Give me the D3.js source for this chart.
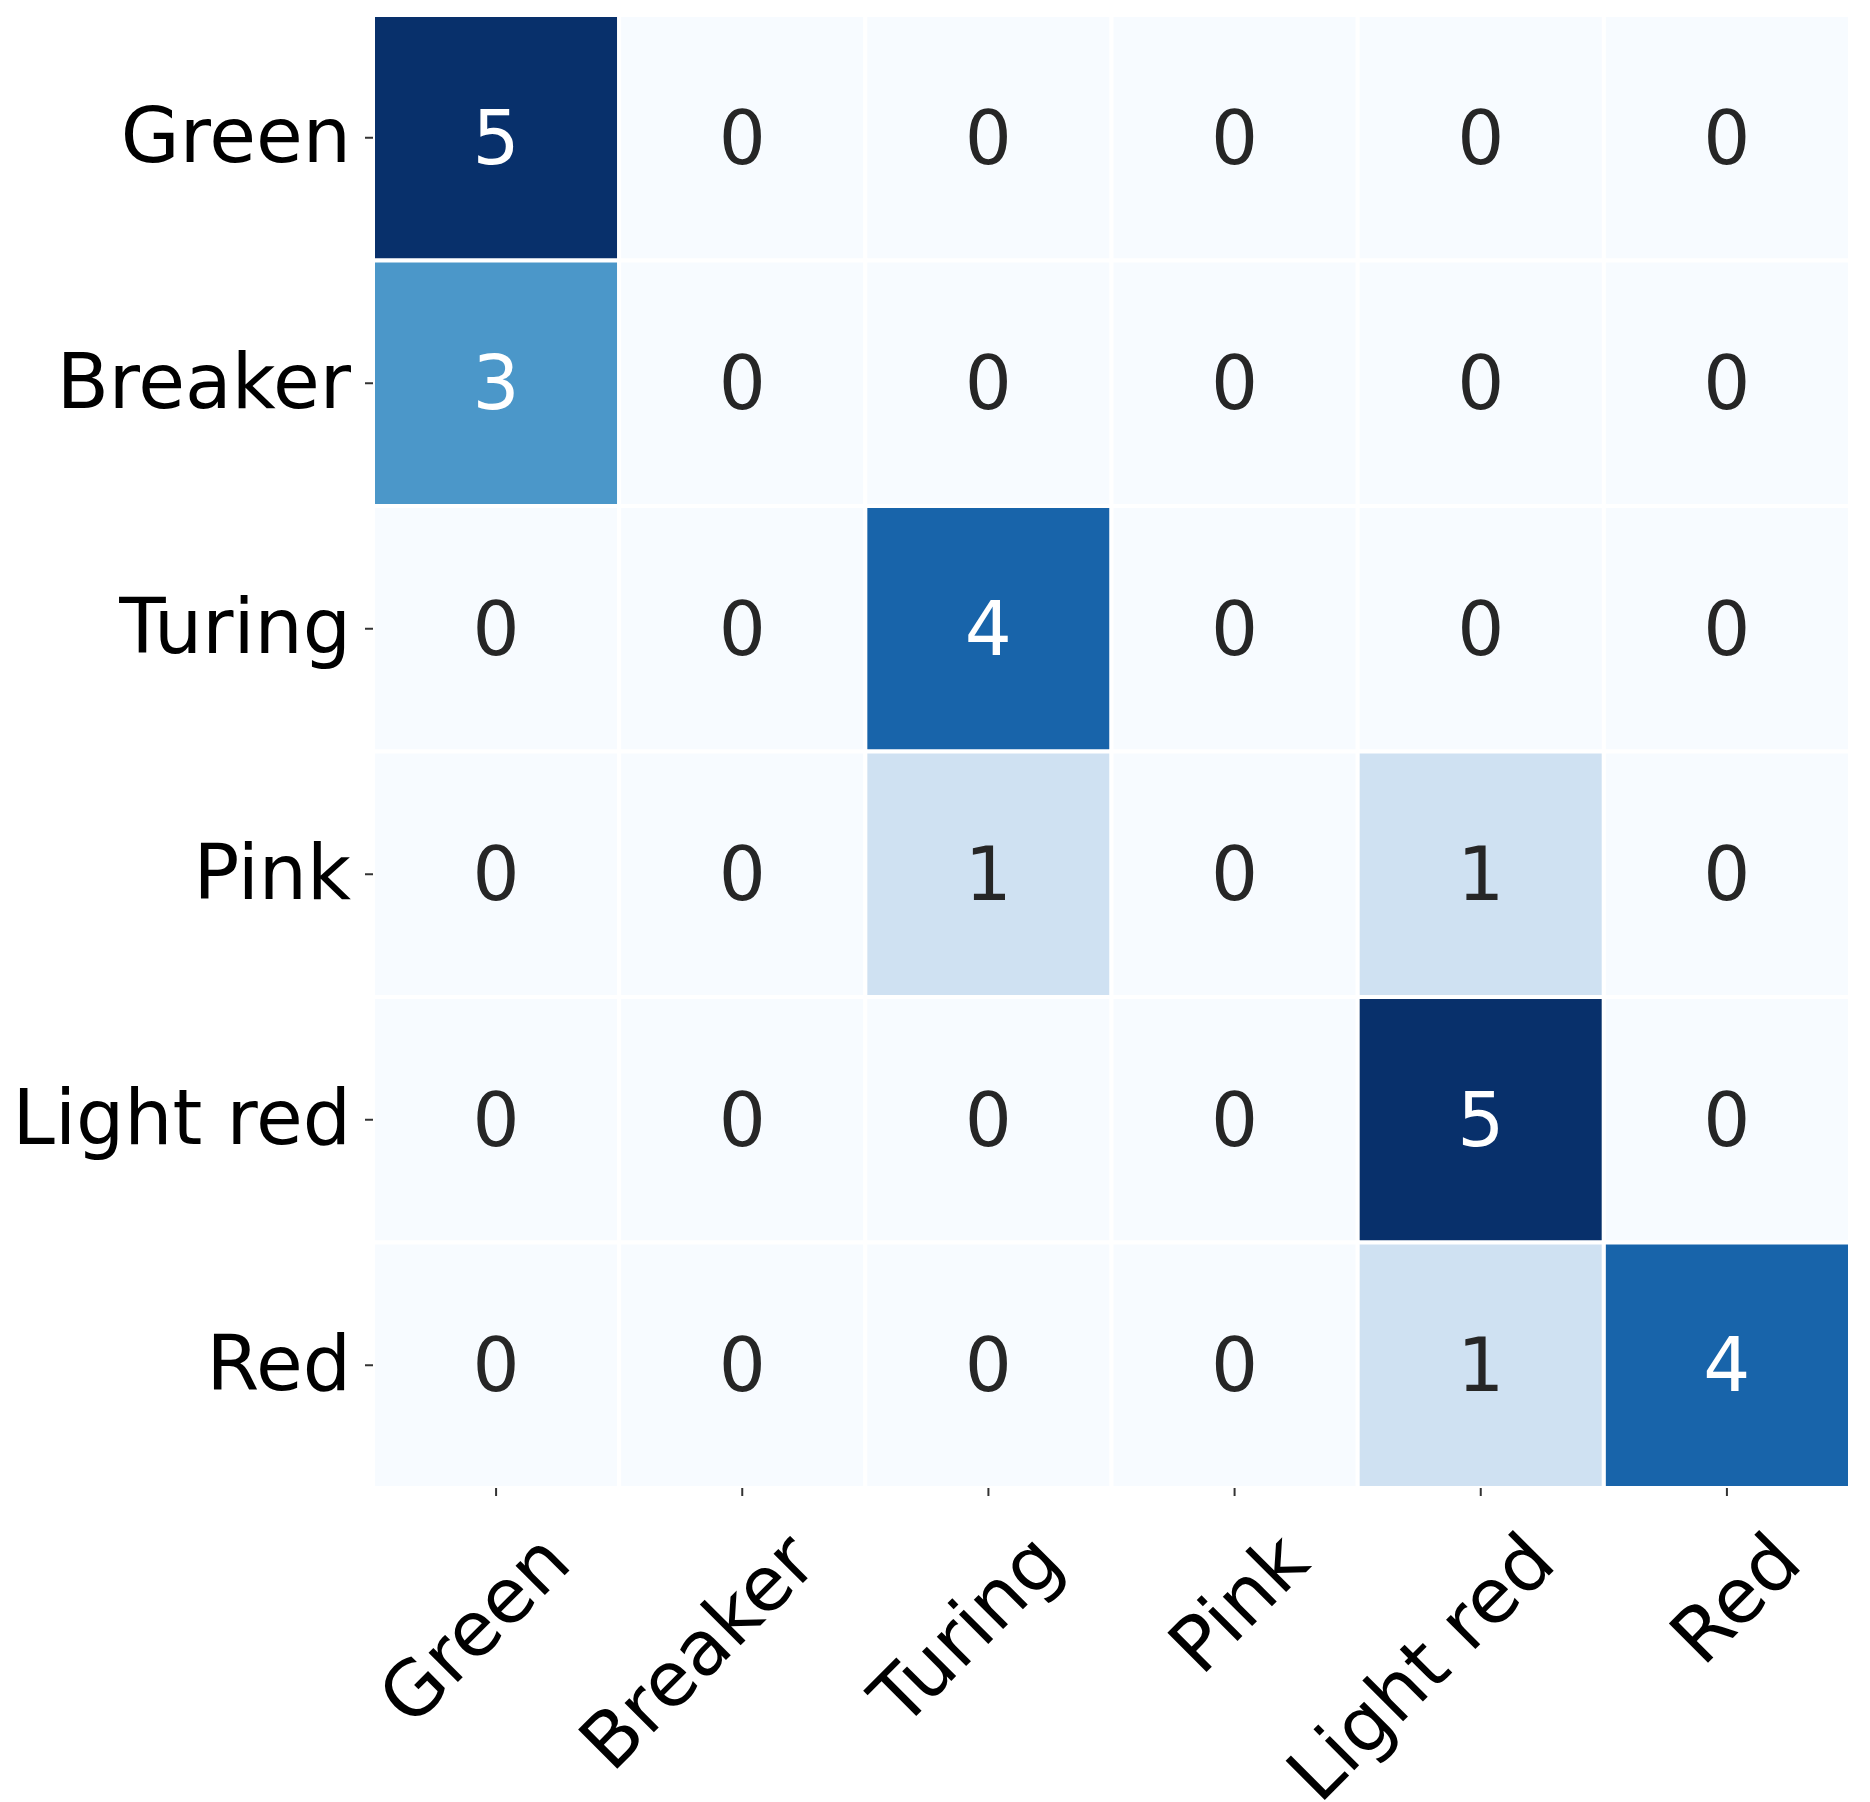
<!DOCTYPE html>
<html><head><meta charset="utf-8">
<script src="https://cdn.jsdelivr.net/npm/d3@7"></script>
<style>body{margin:0;background:#fff}</style></head>
<body><svg id="c" width="1870" height="1802"></svg>
<script>
const labels = ["Green","Breaker","Turing","Pink","Light red","Red"];
const matrix = [
  [5,0,0,0,0,0],
  [3,0,0,0,0,0],
  [0,0,4,0,0,0],
  [0,0,1,0,1,0],
  [0,0,0,0,5,0],
  [0,0,0,0,1,4]
];
const svg = d3.select("#c");
const L=373, T=15, W=1477, H=1473;
const x = d3.scaleBand().domain(labels).range([L, L+W]);
const y = d3.scaleBand().domain(labels).range([T, T+H]);
const color = d3.scaleSequential(d3.interpolateBlues).domain([0,5]);
const cells = [];
matrix.forEach((r,i)=>r.forEach((v,j)=>cells.push({r:labels[i],c:labels[j],v})));
svg.selectAll("rect").data(cells).join("rect")
  .attr("x",d=>x(d.c)).attr("y",d=>y(d.r))
  .attr("width",x.bandwidth()).attr("height",y.bandwidth())
  .attr("fill",d=>color(d.v)).attr("stroke","#fff").attr("stroke-width",4);
svg.selectAll("text.ann").data(cells).join("text").attr("class","ann")
  .attr("x",d=>x(d.c)+x.bandwidth()/2).attr("y",d=>y(d.r)+y.bandwidth()/2)
  .attr("text-anchor","middle").attr("dominant-baseline","central")
  .attr("font-family","DejaVu Sans").attr("font-size",74)
  .attr("fill",d=>d.v>2.5?"#fff":"#262626").text(d=>d.v);
const font = g=>g.selectAll("text").attr("font-family","DejaVu Sans").attr("font-size",76).attr("fill","#000");
const ya = svg.append("g").attr("transform",`translate(${L},0)`)
  .call(d3.axisLeft(y).tickSize(8).tickPadding(14));
ya.select(".domain").remove(); ya.selectAll("line").attr("stroke","#333").attr("stroke-width",2);
font(ya);
const xa = svg.append("g").attr("transform",`translate(0,${T+H})`)
  .call(d3.axisBottom(x).tickSize(8).tickPadding(14));
xa.select(".domain").remove(); xa.selectAll("line").attr("stroke","#333").attr("stroke-width",2);
font(xa);
xa.selectAll("text").attr("text-anchor","end").attr("dy","0.9em")
  .attr("transform","translate(14,14) rotate(-45)");
</script></body></html>
